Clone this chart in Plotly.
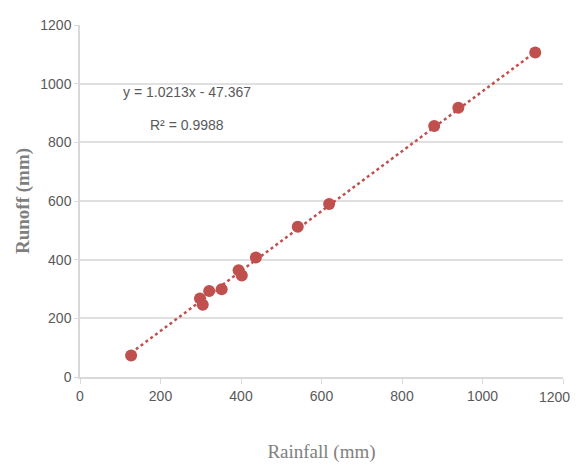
import numpy as np
import plotly.graph_objects as go

rainfall = [127, 298, 305, 321, 352, 394, 402, 437, 541, 619, 880, 940, 1131]
runoff = [73, 268, 246, 293, 299, 364, 346, 407, 512, 590, 856, 918, 1106]
slope = 1.0213
intercept = -47.367
r2 = 0.9988
x_ticks = [0, 200, 400, 600, 800, 1000, 1200]
x_tick_labels = ["0", "200", "400", "600", "800", "1000", "1200"]
y_ticks = [0, 200, 400, 600, 800, 1000, 1200]

red = "#C0504D"
narrow = "Liberation Sans Narrow, Liberation Sans, Arial, sans-serif"
tick_font = dict(family=narrow, size=14, color="#595959")

fig = go.Figure()
xl = np.array([min(rainfall), max(rainfall)])
fig.add_trace(go.Scatter(x=xl, y=slope * xl + intercept, mode="lines",
                         line=dict(color=red, width=2.5, dash="dot"), hoverinfo="skip"))
fig.add_trace(go.Scatter(x=rainfall, y=runoff, mode="markers",
                         marker=dict(color=red, size=12, line=dict(width=0))))

fig.add_annotation(x=0.2215, y=0.81, xref="paper", yref="paper",
                   xanchor="center", yanchor="middle",
                   text=f"y = {slope}x - {abs(intercept)}", showarrow=False,
                   font=dict(family=narrow, size=14, color="#595959"))
fig.add_annotation(x=0.2215, y=0.716, xref="paper", yref="paper",
                   xanchor="center", yanchor="middle",
                   text=f"R² = {r2}", showarrow=False,
                   font=dict(family=narrow, size=14, color="#595959"))

# last x tick label drawn as an annotation so it stays inside the visible page
shown_labels = x_tick_labels[:-1] + [""]
fig.add_annotation(x=x_ticks[-1], y=0, xref="x", yref="paper",
                   xanchor="right", yanchor="middle", xshift=9, yshift=-20,
                   text=x_tick_labels[-1], showarrow=False, font=tick_font)

fig.update_layout(
    width=571, height=455,
    margin=dict(l=72, r=16, t=17, b=86, autoexpand=False),
    paper_bgcolor="white", plot_bgcolor="white",
    showlegend=False,
    xaxis=dict(range=[0, 1200], tickvals=x_ticks, ticktext=shown_labels,
               showgrid=False, zeroline=False,
               showline=True, linecolor="#d9d9d9", linewidth=1.5, automargin=False,
               ticks="outside", ticklen=5, tickcolor="#d9d9d9",
               tickfont=tick_font, ticklabeloverflow="allow",
               title=dict(text="Rainfall (mm)", standoff=45,
                          font=dict(family="Liberation Serif, serif", size=19, color="#7f7f7f"))),
    yaxis=dict(range=[0, 1200], tickvals=y_ticks, showgrid=True, gridcolor="#e0e0e0", gridwidth=1.5,
               zeroline=False, showline=True, linecolor="#d9d9d9", linewidth=1.5, automargin=False,
               ticks="outside", ticklen=4, tickcolor="#d9d9d9",
               tickfont=tick_font,
               title=dict(text="<b>Runoff (mm)</b>", standoff=6,
                          font=dict(family="Liberation Serif, serif", size=19, color="#7f7f7f"))),
)

fig.write_html("out.html", config={"displayModeBar": False})
